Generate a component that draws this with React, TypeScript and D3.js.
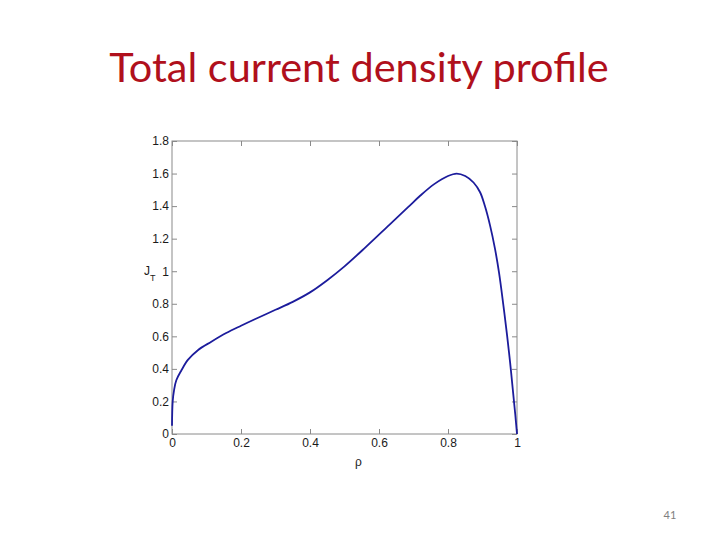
import React, { useEffect, useRef } from 'react';
import * as d3 from 'd3';

// values
const rho = [0, 0.002, 0.006, 0.0125, 0.027, 0.046, 0.075, 0.114, 0.157, 0.2, 0.24, 0.3, 0.35, 0.4, 0.45, 0.5, 0.56, 0.63, 0.685, 0.72, 0.76, 0.8, 0.825, 0.85, 0.874, 0.893, 0.907, 0.922, 0.936, 0.948, 0.96, 0.971, 0.98, 0.988, 0.995, 1];
const jTotal = [0.05, 0.2, 0.27, 0.33, 0.39, 0.455, 0.515, 0.567, 0.62, 0.665, 0.705, 0.763, 0.812, 0.87, 0.945, 1.03, 1.145, 1.285, 1.395, 1.465, 1.535, 1.585, 1.6, 1.585, 1.545, 1.485, 1.4, 1.28, 1.14, 0.99, 0.8, 0.61, 0.44, 0.27, 0.12, 0];
const xTicks = [0, 0.2, 0.4, 0.6, 0.8, 1];
const yTicks = [0, 0.2, 0.4, 0.6, 0.8, 1, 1.2, 1.4, 1.6, 1.8];

const App: React.FC = () => {
  const gRef = useRef<SVGGElement | null>(null);

  useEffect(() => {
    const root = d3.select(gRef.current);
    root.selectAll('*').remove();

    const margin = { top: 141, left: 172 };
    const width = 345;
    const height = 293;

    const g = root.append('g').attr('transform', `translate(${margin.left},${margin.top})`);

    const x = d3.scaleLinear().domain([0, 1]).range([0, width]);
    const y = d3.scaleLinear().domain([0, 1.8]).range([height, 0]);

    const fmt = (d: d3.NumberValue) => String(+d);
    const tickFont = 'Arial, "Liberation Sans", sans-serif';

    const styleAxis = (sel: d3.Selection<SVGGElement, unknown, null, undefined>) => {
      sel.select('.domain').remove();
      sel.selectAll('line').attr('stroke', '#8a8a8a');
      sel.selectAll('text').attr('fill', '#1a1a1a').attr('font-size', 12).attr('font-family', tickFont);
    };

    g.append('g')
      .attr('transform', `translate(0,${height})`)
      .call(d3.axisBottom(x).tickValues(xTicks).tickFormat(fmt).tickSize(-5).tickPadding(4))
      .call(styleAxis);
    g.append('g')
      .call(d3.axisLeft(y).tickValues(yTicks).tickFormat(fmt).tickSize(-5).tickPadding(3))
      .call(styleAxis);
    g.append('g')
      .call(d3.axisTop(x).tickValues(xTicks).tickFormat(() => '').tickSize(-5))
      .call(styleAxis);
    g.append('g')
      .attr('transform', `translate(${width},0)`)
      .call(d3.axisRight(y).tickValues(yTicks).tickFormat(() => '').tickSize(-5))
      .call(styleAxis);

    g.append('rect')
      .attr('width', width)
      .attr('height', height)
      .attr('fill', 'none')
      .attr('stroke', '#8a8a8a')
      .attr('stroke-width', 1);

    const pts = rho.map((r, i) => [r, jTotal[i]] as [number, number]);
    g.append('path')
      .datum(pts)
      .attr('fill', 'none')
      .attr('stroke', '#1c1c9c')
      .attr('stroke-width', 1.8)
      .attr('d', d3.line<[number, number]>().x(d => x(d[0])).y(d => y(d[1])).curve(d3.curveCatmullRom.alpha(0.5)));

    // axis labels
    const yl = g.append('text')
      .attr('x', -28)
      .attr('y', y(1) + 4)
      .attr('font-family', tickFont)
      .attr('font-size', 12)
      .attr('fill', '#1a1a1a');
    yl.append('tspan').text('J');
    yl.append('tspan').attr('font-size', 9).attr('dy', 6).text('T');

    g.append('text')
      .attr('x', x(0.54))
      .attr('y', height + 32)
      .attr('text-anchor', 'middle')
      .attr('font-family', tickFont)
      .attr('font-size', 12)
      .attr('fill', '#1a1a1a')
      .text('ρ');
  }, []);

  return (
    <svg width={720} height={540} style={{ position: 'absolute', left: 0, top: 0, background: '#fff' }}>
      <text x={359} y={82} textAnchor="middle" fontFamily="Lato, 'Open Sans', sans-serif" fontSize={41.5} fill="#b0101c">
        Total current density profile
      </text>
      <text x={670} y={519} textAnchor="middle" fontFamily="Lato, 'Open Sans', sans-serif" fontSize={11} fill="#7f7f7f">
        41
      </text>
      <g ref={gRef} />
    </svg>
  );
};

export default App;
